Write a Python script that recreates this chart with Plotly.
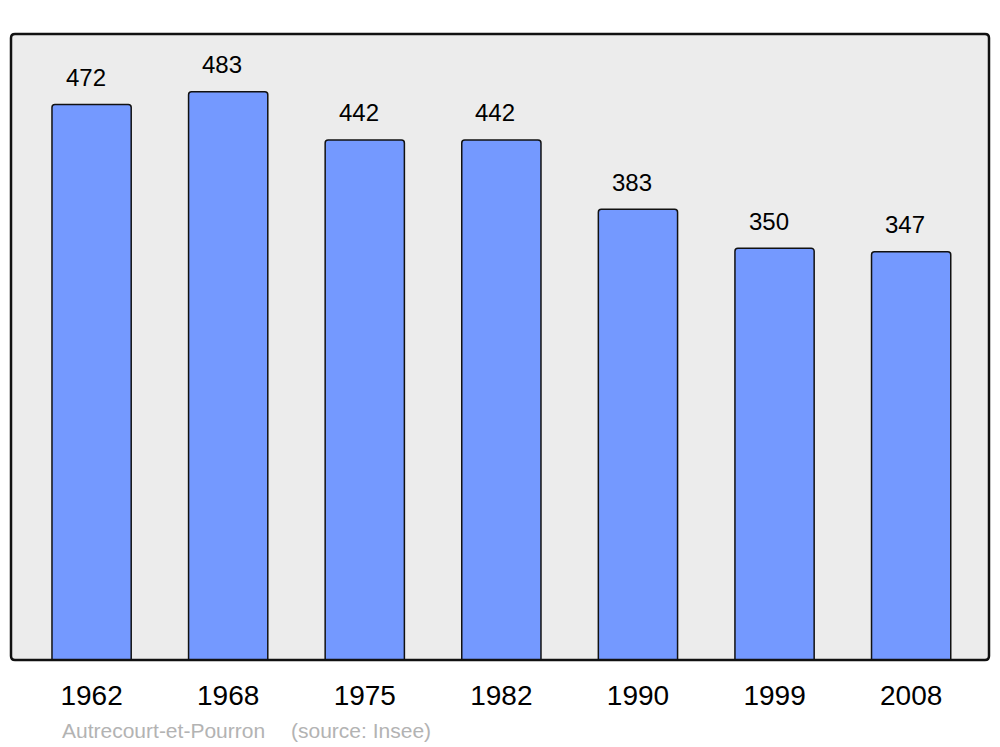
import plotly.graph_objects as go

years = ["1962", "1968", "1975", "1982", "1990", "1999", "2008"]
population = [472, 483, 442, 442, 383, 350, 347]
commune = "Autrecourt-et-Pourron"
source = "(source: Insee)"

# the page body has an 8px margin, so the figure is laid out a bit smaller
OFF = 8
W, H = 1000 - OFF, 747 - OFF
L, R, T, B = 11 - OFF, 11, 34 - OFF, 87
pw, ph = W - L - R, H - T - B

fig = go.Figure(
    go.Bar(
        x=years,
        y=population,
        width=0.58,
        marker={
            "color": "#7499ff",
            "line": {"color": "#111111", "width": 1.5},
            "cornerradius": 3,
        },
        hoverinfo="x+y",
    )
)

# value labels above each bar (x by category index)
for i, val in enumerate(population):
    fig.add_annotation(
        x=i, y=val, text=str(val), showarrow=False,
        yanchor="middle", yshift=27, xshift=-6,
        font={"size": 24, "color": "#000000"},
    )

# source line under the axis
src_y = -(730 - 660) / ph
fig.add_annotation(
    x=(60 - 11) / pw, y=src_y, xref="paper", yref="paper",
    text=commune, showarrow=False, xanchor="left", yanchor="middle",
    font={"size": 21, "color": "#b3b3b3"},
)
fig.add_annotation(
    x=(289 - 11) / pw, y=src_y, xref="paper", yref="paper",
    text=source, showarrow=False, xanchor="left", yanchor="middle",
    font={"size": 21, "color": "#b3b3b3"},
)

# rounded frame around the plot area
rx, ry = 4 / pw, 4 / ph
frame = (
    f"M {rx},0 L {1 - rx},0 Q 1,0 1,{ry} L 1,{1 - ry} Q 1,1 {1 - rx},1 "
    f"L {rx},1 Q 0,1 0,{1 - ry} L 0,{ry} Q 0,0 {rx},0 Z"
)
fig.add_shape(type="path", path=frame, xref="paper", yref="paper",
              line={"color": "#111111", "width": 2.5}, layer="above")

fig.update_layout(
    width=W,
    height=H,
    margin={"l": L, "r": R, "t": T, "b": B, "pad": 0},
    paper_bgcolor="#ffffff",
    plot_bgcolor="#ececec",
    font={"family": "Liberation Sans, Arial, sans-serif", "color": "#000000"},
    showlegend=False,
    xaxis={
        "type": "category",
        "range": [-0.59, 6.57],
        "showgrid": False,
        "zeroline": False,
        "showline": False,
        "ticks": "",
        "tickfont": {"size": 28},
        "ticklabelstandoff": 16,
    },
    yaxis={
        "range": [0, 532],
        "showgrid": False,
        "zeroline": False,
        "showline": False,
        "showticklabels": False,
        "ticks": "",
    },
)

fig.write_html("out.html")
